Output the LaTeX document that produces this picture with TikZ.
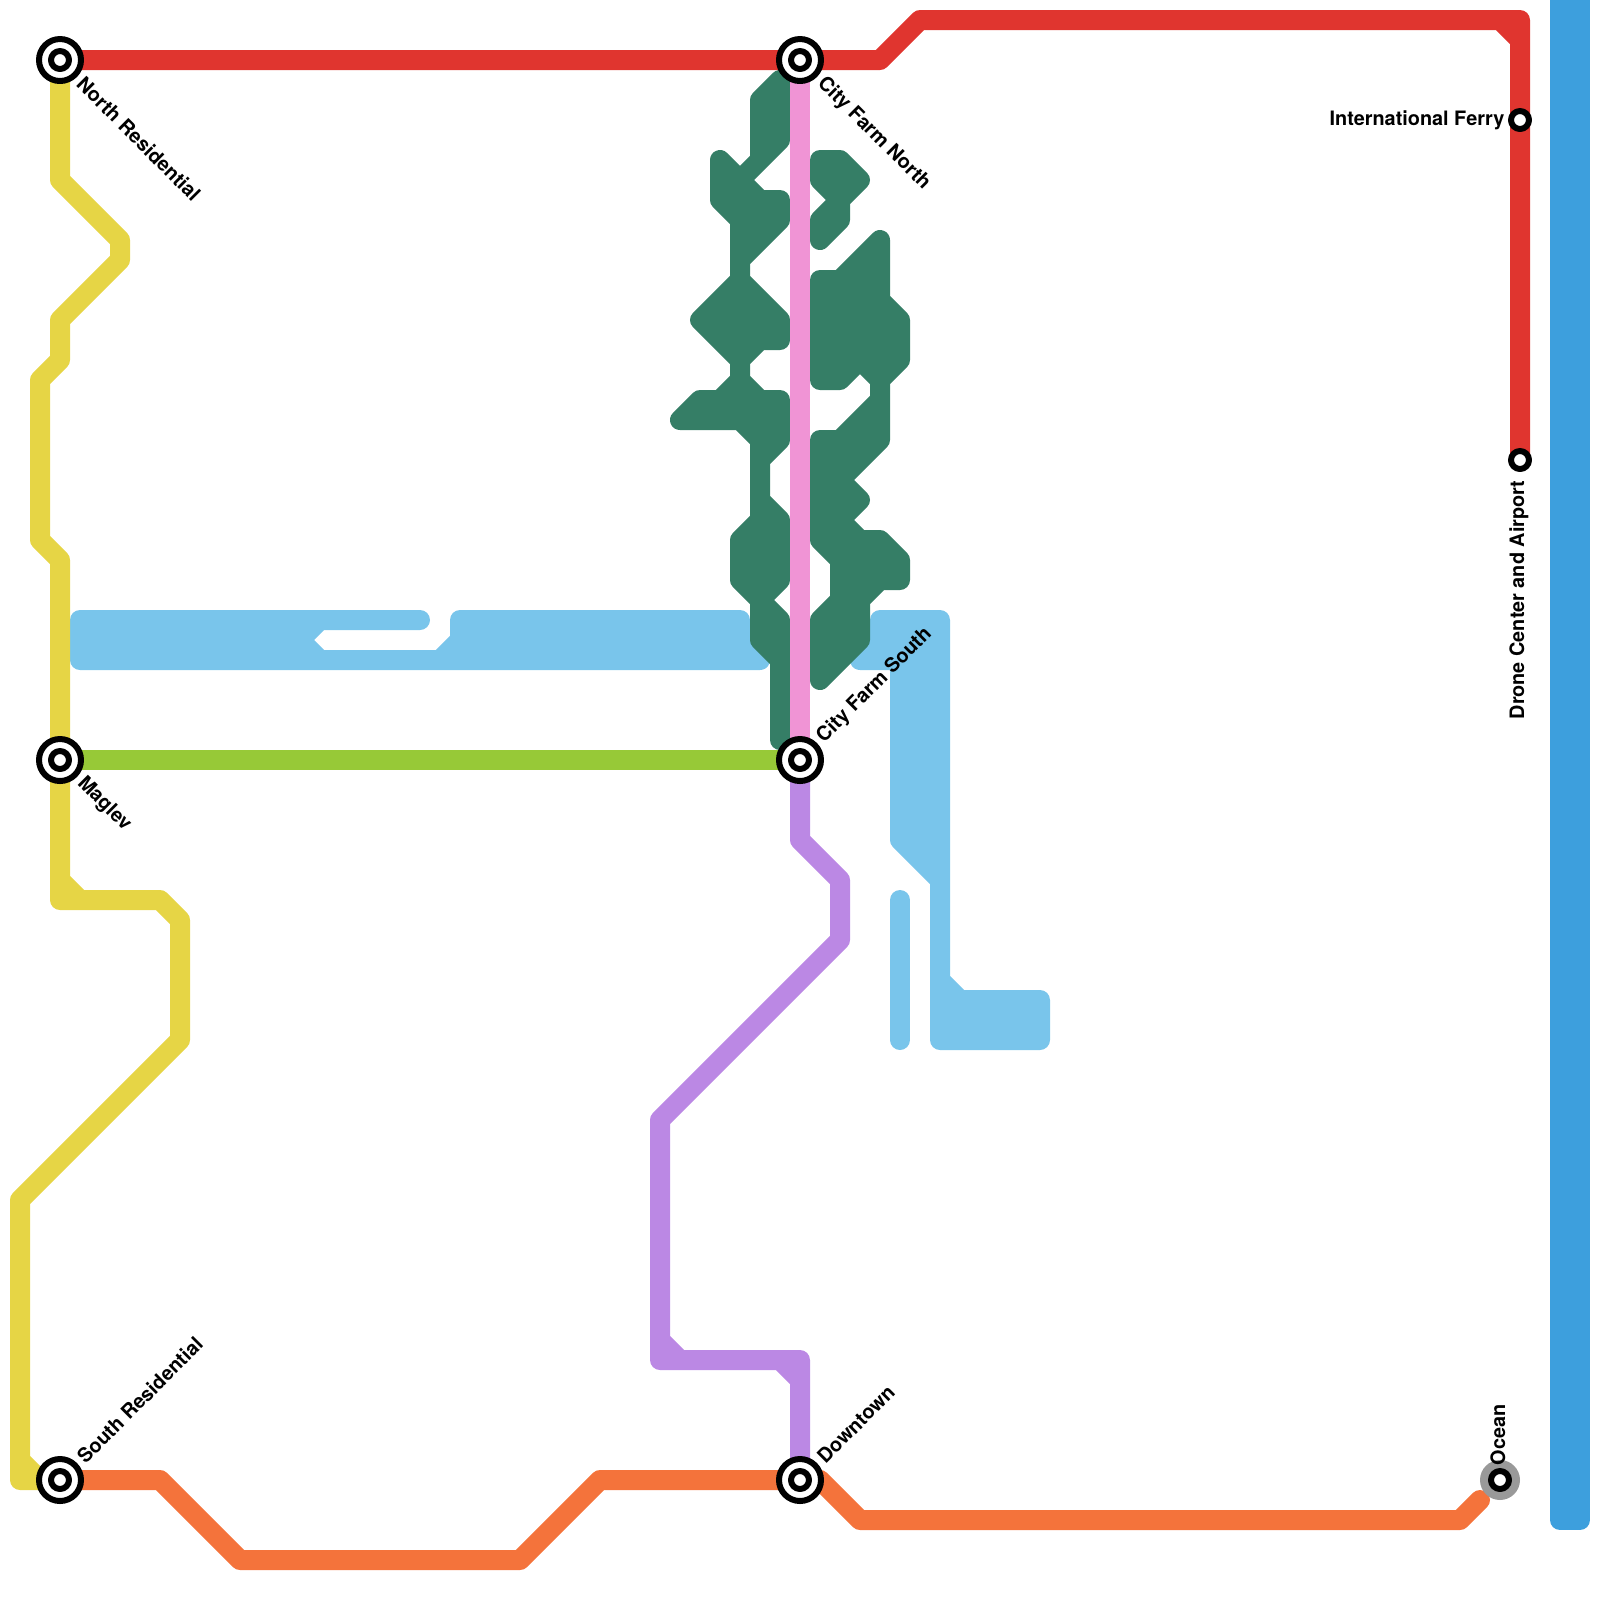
\documentclass[tikz,border=0pt]{standalone}
\usepackage{fontspec}
\setsansfont{TeX Gyre Heros}
\definecolor{redline}{HTML}{E0352F}
\definecolor{yellowline}{HTML}{E6D545}
\definecolor{limeline}{HTML}{97C937}
\definecolor{pinkline}{HTML}{F094D5}
\definecolor{purpleline}{HTML}{BB88E4}
\definecolor{orangeline}{HTML}{F4733B}
\definecolor{farmgreen}{HTML}{357E66}
\definecolor{lakeblue}{HTML}{79C5EB}
\definecolor{seablue}{HTML}{3D9FDD}
\definecolor{portgrey}{HTML}{999999}
\begin{document}
\begin{tikzpicture}[x=.2cm, y=-.2cm, line join=round, line cap=round,
    route/.style={line width=.2cm},
    area/.style={line width=.2cm, draw=#1, fill=#1},
    ringouter/.style={circle, inner sep=0pt, minimum size=.42cm, fill=white, draw=black, line width=.06cm},
    ringinner/.style={circle, inner sep=0pt, minimum size=.18cm, fill=white, draw=black, line width=.06cm},
    stopdot/.style={circle, inner sep=0pt, minimum size=.18cm, fill=white, draw=black, line width=.06cm},
    portdot/.style={circle, inner sep=0pt, minimum size=.4cm, fill=portgrey},
    stoplabel/.style={inner sep=0pt, font=\sffamily\bfseries\fontsize{5.65pt}{6pt}\selectfont}]
  \useasboundingbox (0,0) rectangle (80,80);
  \coordinate (northres) at (3,3);
  \coordinate (cityfarmn) at (40,3);
  \coordinate (maglev) at (3,38);
  \coordinate (cityfarms) at (40,38);
  \coordinate (southres) at (3,74);
  \coordinate (downtown) at (40,74);
  \coordinate (ocean) at (75,74);
  \coordinate (ferry) at (76,6);
  \coordinate (drone) at (76,23);

  \draw[area=seablue] (78,-1) -- (79,-1) -- (79,76) -- (78,76) -- cycle;
  \draw[area=lakeblue] (4,31) -- (21,31) -- (16,31) -- (15,32) -- (16,33) -- (22,33) -- (23,32) -- (23,31) -- (37,31) -- (37,32) -- (38,33) -- (4,33) -- cycle;
  \draw[area=lakeblue] (44,31) -- (47,31) -- (47,49) -- (48,50) -- (52,50) -- (52,52) -- (47,52) -- (47,44) -- (45,42) -- (45,33) -- (43,33) -- (44,32) -- cycle;
  \draw[route, lakeblue] (45,45) -- (45,52);

  \draw[area=farmgreen] (39,4) -- (39,7) -- (37,9) -- (38,10) -- (39,10) -- (39,11) -- (37,13) -- (37,14) -- (39,16) -- (39,17) -- (38,17) -- (37,18) -- (37,19) -- (38,20) -- (39,20) -- (39,22) -- (38,23) -- (38,25) -- (39,26) -- (39,29) -- (38,30) -- (39,31) -- (39,37) -- (39,33) -- (38,32) -- (38,30) -- (37,29) -- (37,27) -- (38,26) -- (38,22) -- (37,21) -- (34,21) -- (35,20) -- (36,20) -- (37,19) -- (37,18) -- (35,16) -- (37,14) -- (37,11) -- (36,10) -- (36,8) -- (37,9) -- (38,8) -- (38,5) -- cycle;
  \draw[area=farmgreen] (41,8) -- (42,8) -- (43,9) -- (42,10) -- (42,11) -- (41,12) -- (41,11) -- (42,10) -- (41,9) -- cycle;
  \draw[area=farmgreen] (41,14) -- (42,14) -- (44,12) -- (44,15) -- (45,16) -- (45,18) -- (44,19) -- (44,22) -- (42,24) -- (43,25) -- (42,26) -- (43,27) -- (44,27) -- (45,28) -- (45,29) -- (44,29) -- (43,30) -- (43,32) -- (41,34) -- (41,31) -- (42,30) -- (42,28) -- (41,27) -- (41,22) -- (42,22) -- (44,20) -- (44,19) -- (43,18) -- (42,19) -- (41,19) -- cycle;

  \draw[route, yellowline] (northres) -- (3,9) -- (6,12) -- (6,13) -- (3,16) -- (3,18) -- (2,19) -- (2,27) -- (3,28) -- (3,45) -- (8,45) -- (9,46) -- (9,52) -- (1,60) -- (1,74) -- (southres) (3,44) -- (4,45) (1,73) -- (2,74);
  \draw[route, redline] (northres) -- (44,3) -- (46,1) -- (76,1) -- (drone) (75,1) -- (76,2);
  \draw[route, limeline] (maglev) -- (cityfarms);
  \draw[route, pinkline] (cityfarmn) -- (cityfarms);
  \draw[route, purpleline] (cityfarms) -- (40,42) -- (42,44) -- (42,47) -- (33,56) -- (33,68) -- (40,68) -- (downtown) (33,67) -- (34,68) (39,68) -- (40,69);
  \draw[route, orangeline] (southres) -- (8,74) -- (12,78) -- (26,78) -- (30,74) -- (downtown) -- (41,74) -- (43,76) -- (73,76) -- (74,75);

  \foreach \stop in {northres,cityfarmn,maglev,cityfarms,southres,downtown} {
    \node[ringouter] (\stop-outer) at (\stop) {};
    \node[ringinner] (\stop-inner) at (\stop) {};
  }
  \node[portdot] (ocean-port) at (ocean) {};
  \foreach \stop in {ocean,ferry,drone} {
    \node[stopdot] (\stop-dot) at (\stop) {};
  }

  \node[stoplabel, rotate=-45, anchor=west] (northres-label) at ([shift={(1,1)}]northres) {North Residential};
  \node[stoplabel, rotate=-45, anchor=west] (cityfarmn-label) at ([shift={(1,1)}]cityfarmn) {City Farm North};
  \node[stoplabel, rotate=-45, anchor=west] (maglev-label) at ([shift={(1,1)}]maglev) {Maglev};
  \node[stoplabel, rotate=45, anchor=west] (cityfarms-label) at ([shift={(1,-1)}]cityfarms) {City Farm South};
  \node[stoplabel, rotate=45, anchor=west] (southres-label) at ([shift={(1,-1)}]southres) {South Residential};
  \node[stoplabel, rotate=45, anchor=west] (downtown-label) at ([shift={(1,-1)}]downtown) {Downtown};
  \node[stoplabel, anchor=east] (ferry-label) at ([shift={(-.75,0)}]ferry) {International Ferry};
  \node[stoplabel, rotate=90, anchor=east] (drone-label) at ([shift={(-.05,1)}]drone) {Drone Center and Airport};
  \node[stoplabel, rotate=90, anchor=west] (ocean-label) at ([shift={(-.1,-.7)}]ocean) {Ocean};
\end{tikzpicture}
\end{document}
